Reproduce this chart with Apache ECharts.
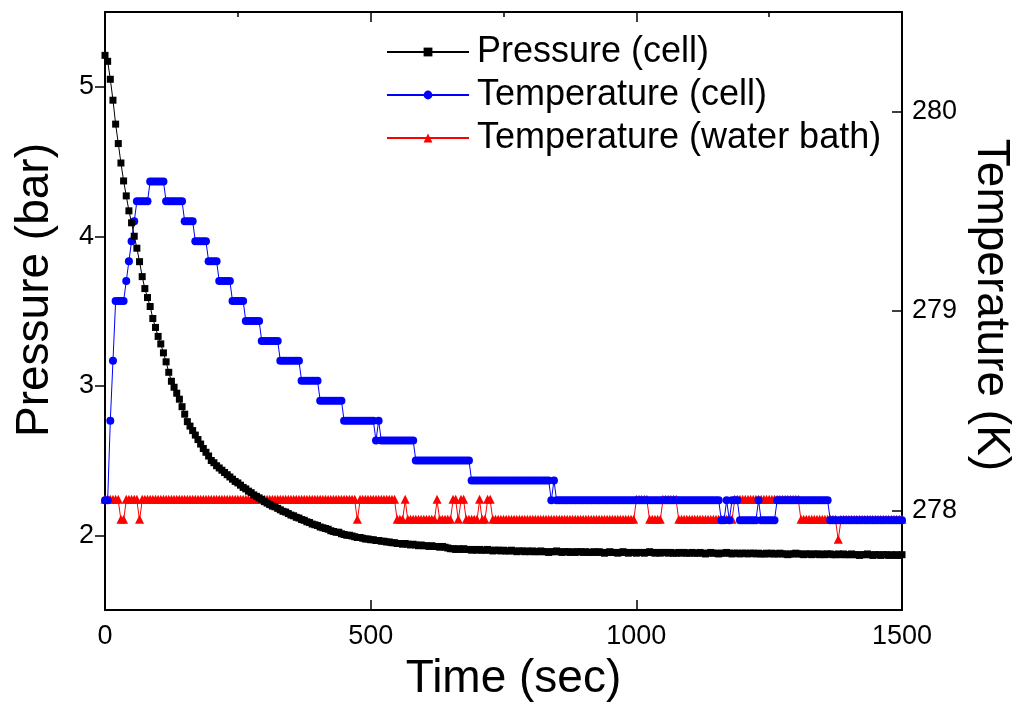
<!DOCTYPE html>
<html>
<head>
<meta charset="utf-8">
<title>Pressure and temperature vs time</title>
<script src="https://cdn.jsdelivr.net/npm/echarts@6/dist/echarts.min.js"></script>
<style>
  html, body { margin: 0; padding: 0; background: #ffffff; }
  #chart { width: 1022px; height: 708px; }
</style>
</head>
<body>
<div id="chart"></div>
<script>
// Sampling times (s), one reading every 5 s
const timeSec = [
  0, 5, 10, 15, 20, 25, 30, 35, 40, 45, 50, 55, 60, 65, 70, 75, 80, 85, 90, 95,
  100, 105, 110, 115, 120, 125, 130, 135, 140, 145, 150, 155, 160, 165, 170, 175, 180, 185, 190, 195,
  200, 205, 210, 215, 220, 225, 230, 235, 240, 245, 250, 255, 260, 265, 270, 275, 280, 285, 290, 295,
  300, 305, 310, 315, 320, 325, 330, 335, 340, 345, 350, 355, 360, 365, 370, 375, 380, 385, 390, 395,
  400, 405, 410, 415, 420, 425, 430, 435, 440, 445, 450, 455, 460, 465, 470, 475, 480, 485, 490, 495,
  500, 505, 510, 515, 520, 525, 530, 535, 540, 545, 550, 555, 560, 565, 570, 575, 580, 585, 590, 595,
  600, 605, 610, 615, 620, 625, 630, 635, 640, 645, 650, 655, 660, 665, 670, 675, 680, 685, 690, 695,
  700, 705, 710, 715, 720, 725, 730, 735, 740, 745, 750, 755, 760, 765, 770, 775, 780, 785, 790, 795,
  800, 805, 810, 815, 820, 825, 830, 835, 840, 845, 850, 855, 860, 865, 870, 875, 880, 885, 890, 895,
  900, 905, 910, 915, 920, 925, 930, 935, 940, 945, 950, 955, 960, 965, 970, 975, 980, 985, 990, 995,
  1000, 1005, 1010, 1015, 1020, 1025, 1030, 1035, 1040, 1045, 1050, 1055, 1060, 1065, 1070, 1075, 1080, 1085, 1090, 1095,
  1100, 1105, 1110, 1115, 1120, 1125, 1130, 1135, 1140, 1145, 1150, 1155, 1160, 1165, 1170, 1175, 1180, 1185, 1190, 1195,
  1200, 1205, 1210, 1215, 1220, 1225, 1230, 1235, 1240, 1245, 1250, 1255, 1260, 1265, 1270, 1275, 1280, 1285, 1290, 1295,
  1300, 1305, 1310, 1315, 1320, 1325, 1330, 1335, 1340, 1345, 1350, 1355, 1360, 1365, 1370, 1375, 1380, 1385, 1390, 1395,
  1400, 1405, 1410, 1415, 1420, 1425, 1430, 1435, 1440, 1445, 1450, 1455, 1460, 1465, 1470, 1475, 1480, 1485, 1490, 1495,
  1500
];

// Cell pressure (bar)
const pressureBar = [
  5.21, 5.17, 5.05, 4.91, 4.75, 4.62, 4.49, 4.37, 4.27, 4.17, 4.09, 4.00, 3.92, 3.83, 3.73, 3.65, 3.59, 3.53, 3.45, 3.39,
  3.33, 3.28, 3.22, 3.16, 3.09, 3.03, 2.99, 2.95, 2.91, 2.86, 2.81, 2.76, 2.73, 2.70, 2.67, 2.64, 2.61, 2.58, 2.555, 2.53,
  2.50, 2.485, 2.465, 2.45, 2.435, 2.42, 2.405, 2.39, 2.375, 2.36, 2.35, 2.335, 2.32, 2.31, 2.295, 2.285, 2.27, 2.26, 2.25, 2.24,
  2.225, 2.215, 2.205, 2.195, 2.19, 2.18, 2.17, 2.16, 2.155, 2.145, 2.135, 2.13, 2.12, 2.115, 2.105, 2.10, 2.09, 2.085, 2.075, 2.07,
  2.065, 2.055, 2.05, 2.045, 2.04, 2.03, 2.025, 2.02, 2.02, 2.01, 2.005, 2.00, 2.00, 1.995, 1.99, 1.985, 1.985, 1.98, 1.975, 1.975,
  1.97, 1.97, 1.965, 1.965, 1.96, 1.96, 1.955, 1.955, 1.95, 1.95, 1.945, 1.945, 1.94, 1.945, 1.94, 1.935, 1.94, 1.935, 1.93, 1.935,
  1.93, 1.93, 1.925, 1.93, 1.925, 1.925, 1.92, 1.925, 1.92, 1.915, 1.91, 1.91, 1.905, 1.91, 1.905, 1.91, 1.905, 1.905, 1.90, 1.905,
  1.90, 1.905, 1.90, 1.90, 1.905, 1.90, 1.895, 1.90, 1.90, 1.895, 1.90, 1.895, 1.895, 1.90, 1.895, 1.89, 1.895, 1.895, 1.89, 1.895,
  1.89, 1.895, 1.89, 1.89, 1.895, 1.89, 1.89, 1.885, 1.89, 1.89, 1.895, 1.89, 1.885, 1.89, 1.89, 1.885, 1.89, 1.885, 1.89, 1.89,
  1.885, 1.89, 1.885, 1.885, 1.89, 1.885, 1.89, 1.885, 1.88, 1.885, 1.89, 1.885, 1.885, 1.88, 1.885, 1.89, 1.885, 1.88, 1.885, 1.885,
  1.88, 1.885, 1.885, 1.88, 1.885, 1.89, 1.885, 1.88, 1.885, 1.88, 1.885, 1.885, 1.88, 1.885, 1.88, 1.88, 1.885, 1.88, 1.885, 1.88,
  1.88, 1.885, 1.88, 1.88, 1.885, 1.88, 1.875, 1.88, 1.885, 1.88, 1.88, 1.875, 1.88, 1.88, 1.885, 1.88, 1.875, 1.88, 1.88, 1.875,
  1.88, 1.88, 1.875, 1.88, 1.88, 1.875, 1.88, 1.875, 1.875, 1.88, 1.875, 1.88, 1.875, 1.875, 1.88, 1.875, 1.875, 1.87, 1.875, 1.875,
  1.88, 1.875, 1.875, 1.87, 1.875, 1.875, 1.87, 1.875, 1.875, 1.87, 1.875, 1.87, 1.875, 1.875, 1.87, 1.87, 1.875, 1.87, 1.875, 1.87,
  1.87, 1.875, 1.87, 1.87, 1.865, 1.87, 1.87, 1.875, 1.87, 1.865, 1.87, 1.87, 1.865, 1.87, 1.87, 1.865, 1.87, 1.865, 1.87, 1.865,
  1.87
];

// Cell temperature (K)
const tempCellK = [
  278.05, 278.05, 278.45, 278.75, 279.05, 279.05, 279.05, 279.05, 279.15, 279.25, 279.35, 279.45, 279.55, 279.55, 279.55, 279.55, 279.55, 279.65, 279.65, 279.65,
  279.65, 279.65, 279.65, 279.55, 279.55, 279.55, 279.55, 279.55, 279.55, 279.55, 279.45, 279.45, 279.45, 279.45, 279.35, 279.35, 279.35, 279.35, 279.35, 279.25,
  279.25, 279.25, 279.25, 279.15, 279.15, 279.15, 279.15, 279.15, 279.05, 279.05, 279.05, 279.05, 279.05, 278.95, 278.95, 278.95, 278.95, 278.95, 278.95, 278.85,
  278.85, 278.85, 278.85, 278.85, 278.85, 278.85, 278.75, 278.75, 278.75, 278.75, 278.75, 278.75, 278.75, 278.75, 278.65, 278.65, 278.65, 278.65, 278.65, 278.65,
  278.65, 278.55, 278.55, 278.55, 278.55, 278.55, 278.55, 278.55, 278.55, 278.55, 278.45, 278.45, 278.45, 278.45, 278.45, 278.45, 278.45, 278.45, 278.45, 278.45,
  278.45, 278.45, 278.35, 278.45, 278.35, 278.35, 278.35, 278.35, 278.35, 278.35, 278.35, 278.35, 278.35, 278.35, 278.35, 278.35, 278.35, 278.25, 278.25, 278.25,
  278.25, 278.25, 278.25, 278.25, 278.25, 278.25, 278.25, 278.25, 278.25, 278.25, 278.25, 278.25, 278.25, 278.25, 278.25, 278.25, 278.25, 278.25, 278.15, 278.15,
  278.15, 278.15, 278.15, 278.15, 278.15, 278.15, 278.15, 278.15, 278.15, 278.15, 278.15, 278.15, 278.15, 278.15, 278.15, 278.15, 278.15, 278.15, 278.15, 278.15,
  278.15, 278.15, 278.15, 278.15, 278.15, 278.15, 278.15, 278.15, 278.05, 278.15, 278.05, 278.05, 278.05, 278.05, 278.05, 278.05, 278.05, 278.05, 278.05, 278.05,
  278.05, 278.05, 278.05, 278.05, 278.05, 278.05, 278.05, 278.05, 278.05, 278.05, 278.05, 278.05, 278.05, 278.05, 278.05, 278.05, 278.05, 278.05, 278.05, 278.05,
  278.05, 278.05, 278.05, 278.05, 278.05, 278.05, 278.05, 278.05, 278.05, 278.05, 278.05, 278.05, 278.05, 278.05, 278.05, 278.05, 278.05, 278.05, 278.05, 278.05,
  278.05, 278.05, 278.05, 278.05, 278.05, 278.05, 278.05, 278.05, 278.05, 278.05, 278.05, 278.05, 277.95, 277.95, 278.05, 277.95, 278.05, 278.05, 278.05, 277.95,
  277.95, 277.95, 277.95, 277.95, 277.95, 277.95, 278.05, 277.95, 277.95, 277.95, 277.95, 277.95, 277.95, 278.05, 278.05, 278.05, 278.05, 278.05, 278.05, 278.05,
  278.05, 278.05, 278.05, 278.05, 278.05, 278.05, 278.05, 278.05, 278.05, 278.05, 278.05, 278.05, 278.05, 277.95, 277.95, 277.95, 277.95, 277.95, 277.95, 277.95,
  277.95, 277.95, 277.95, 277.95, 277.95, 277.95, 277.95, 277.95, 277.95, 277.95, 277.95, 277.95, 277.95, 277.95, 277.95, 277.95, 277.95, 277.95, 277.95, 277.95,
  277.95
];

// Water bath temperature (K)
const tempBathK = [
  278.05, 278.05, 278.05, 278.05, 278.05, 278.05, 277.95, 277.95, 278.05, 278.05, 278.05, 278.05, 278.05, 277.95, 278.05, 278.05, 278.05, 278.05, 278.05, 278.05,
  278.05, 278.05, 278.05, 278.05, 278.05, 278.05, 278.05, 278.05, 278.05, 278.05, 278.05, 278.05, 278.05, 278.05, 278.05, 278.05, 278.05, 278.05, 278.05, 278.05,
  278.05, 278.05, 278.05, 278.05, 278.05, 278.05, 278.05, 278.05, 278.05, 278.05, 278.05, 278.05, 278.05, 278.05, 278.05, 278.05, 278.05, 278.05, 278.05, 278.05,
  278.05, 278.05, 278.05, 278.05, 278.05, 278.05, 278.05, 278.05, 278.05, 278.05, 278.05, 278.05, 278.05, 278.05, 278.05, 278.05, 278.05, 278.05, 278.05, 278.05,
  278.05, 278.05, 278.05, 278.05, 278.05, 278.05, 278.05, 278.05, 278.05, 278.05, 278.05, 278.05, 278.05, 278.05, 278.05, 277.95, 278.05, 278.05, 278.05, 278.05,
  278.05, 278.05, 278.05, 278.05, 278.05, 278.05, 278.05, 278.05, 278.05, 278.05, 277.95, 277.95, 277.95, 278.05, 277.95, 277.95, 277.95, 277.95, 277.95, 277.95,
  277.95, 277.95, 277.95, 277.95, 277.95, 278.05, 277.95, 277.95, 277.95, 277.95, 277.95, 278.05, 278.05, 277.95, 278.05, 278.05, 277.95, 277.95, 277.95, 277.95,
  277.95, 278.05, 277.95, 277.95, 278.05, 278.05, 277.95, 277.95, 277.95, 277.95, 277.95, 277.95, 277.95, 277.95, 277.95, 277.95, 277.95, 277.95, 277.95, 277.95,
  277.95, 277.95, 277.95, 277.95, 277.95, 277.95, 277.95, 277.95, 277.95, 277.95, 277.95, 277.95, 277.95, 277.95, 277.95, 277.95, 277.95, 277.95, 277.95, 277.95,
  277.95, 277.95, 277.95, 277.95, 277.95, 277.95, 277.95, 277.95, 277.95, 277.95, 277.95, 277.95, 277.95, 277.95, 277.95, 277.95, 277.95, 277.95, 277.95, 277.95,
  278.05, 278.05, 278.05, 278.05, 278.05, 277.95, 277.95, 277.95, 277.95, 277.95, 278.05, 278.05, 278.05, 278.05, 278.05, 278.05, 277.95, 277.95, 277.95, 277.95,
  277.95, 277.95, 277.95, 277.95, 277.95, 277.95, 277.95, 277.95, 277.95, 277.95, 277.95, 277.95, 277.95, 277.95, 277.95, 277.95, 277.95, 278.05, 278.05, 278.05,
  278.05, 278.05, 278.05, 278.05, 278.05, 278.05, 278.05, 278.05, 278.05, 278.05, 278.05, 278.05, 278.05, 278.05, 278.05, 278.05, 278.05, 278.05, 278.05, 278.05,
  278.05, 278.05, 277.95, 277.95, 277.95, 277.95, 277.95, 277.95, 277.95, 277.95, 277.95, 277.95, 277.95, 277.95, 277.95, 277.95, 277.85, 277.95, 277.95, 277.95,
  277.95, 277.95, 277.95, 277.95, 277.95, 277.95, 277.95, 277.95, 277.95, 277.95, 277.95, 277.95, 277.95, 277.95, 277.95, 277.95, 277.95, 277.95, 277.95, 277.95,
  277.95
];

// Axis tick values
const timeTicks = [0, 500, 1000, 1500];
const pressureTicks = [2, 3, 4, 5];
const tempTicks = [278, 279, 280];

const FONT = '"Liberation Sans", Arial, Helvetica, sans-serif';

function pairs(values) {
  return values.map((v, i) => [timeSec[i], v]);
}

const plainNumber = (v) => String(v);

const chart = echarts.init(document.getElementById('chart'), null, { renderer: 'canvas' });

const axisLineStyle = { color: '#000000', width: 2 };
const tickLineStyle = { color: '#000000', width: 1.5 };

chart.setOption({
  backgroundColor: '#ffffff',
  animation: false,
  textStyle: { fontFamily: FONT },
  grid: { left: 105, right: 117, top: 12, bottom: 98, containLabel: false },
  legend: {
    orient: 'vertical',
    left: 381,
    top: 27,
    padding: 5,
    itemWidth: 82,
    itemHeight: 11,
    itemGap: 3,
    selectedMode: false,
    textStyle: { fontFamily: FONT, fontSize: 36, color: '#000000', lineHeight: 40, padding: [0, 0, 0, 3] },
    data: ['Pressure (cell)', 'Temperature (cell)', 'Temperature (water bath)']
  },
  xAxis: [
    {
      type: 'value',
      position: 'bottom',
      min: timeTicks[0],
      max: timeTicks[timeTicks.length - 1],
      interval: 500,
      axisLine: { show: true, onZero: false, lineStyle: axisLineStyle },
      axisTick: { show: true, inside: true, length: 10, lineStyle: tickLineStyle },
      axisLabel: { fontFamily: FONT, fontSize: 27, color: '#000000', margin: 13, formatter: plainNumber },
      splitLine: { show: false },
      name: 'Time (sec)',
      nameLocation: 'middle',
      nameGap: 46,
      nameTextStyle: { fontFamily: FONT, fontSize: 46, color: '#000000', padding: [0, 0, 0, 20] }
    },
    {
      type: 'value',
      position: 'top',
      min: timeTicks[0],
      max: timeTicks[timeTicks.length - 1],
      interval: 500,
      axisLine: { show: true, onZero: false, lineStyle: axisLineStyle },
      axisTick: { show: true, inside: true, length: 10, lineStyle: tickLineStyle },
      minorTick: { show: true, splitNumber: 2, length: 5, lineStyle: tickLineStyle },
      axisLabel: { show: false },
      splitLine: { show: false },
      minorSplitLine: { show: false }
    }
  ],
  yAxis: [
    {
      type: 'value',
      position: 'left',
      min: 1.5,
      max: 5.5,
      interval: 0.5,
      axisLine: { show: true, onZero: false, lineStyle: axisLineStyle },
      axisTick: { show: true, inside: false, length: 10, customValues: pressureTicks, lineStyle: tickLineStyle },
      axisLabel: { fontFamily: FONT, fontSize: 27, color: '#000000', margin: 11, customValues: pressureTicks, formatter: plainNumber },
      splitLine: { show: false },
      name: 'Pressure (bar)',
      nameLocation: 'middle',
      nameRotate: 90,
      nameGap: 47,
      nameTextStyle: { fontFamily: FONT, fontSize: 46, color: '#000000', padding: [0, 0, 0, 42] }
    },
    {
      type: 'value',
      position: 'right',
      min: 277.5,
      max: 280.5,
      interval: 0.5,
      axisLine: { show: true, onZero: false, lineStyle: axisLineStyle },
      axisTick: { show: true, inside: true, length: 10, customValues: tempTicks, lineStyle: tickLineStyle },
      axisLabel: { fontFamily: FONT, fontSize: 27, color: '#000000', margin: 10, customValues: tempTicks, formatter: plainNumber },
      splitLine: { show: false },
      name: 'Temperature (K)',
      nameLocation: 'middle',
      nameRotate: -90,
      nameGap: 66,
      nameTextStyle: { fontFamily: FONT, fontSize: 46, color: '#000000', padding: [0, 12, 0, 0] }
    }
  ],
  series: [
    {
      name: 'Pressure (cell)',
      type: 'line',
      xAxisIndex: 0,
      yAxisIndex: 0,
      z: 4,
      data: pairs(pressureBar),
      symbol: 'rect',
      symbolSize: 7,
      showSymbol: true,
      showAllSymbol: true,
      itemStyle: { color: '#000000' },
      lineStyle: { color: '#000000', width: 1 }
    },
    {
      name: 'Temperature (cell)',
      type: 'line',
      xAxisIndex: 0,
      yAxisIndex: 1,
      z: 3,
      data: pairs(tempCellK),
      symbol: 'circle',
      symbolSize: 8,
      showSymbol: true,
      showAllSymbol: true,
      itemStyle: { color: '#0000ff' },
      lineStyle: { color: '#0000ff', width: 1 }
    },
    {
      name: 'Temperature (water bath)',
      type: 'line',
      xAxisIndex: 0,
      yAxisIndex: 1,
      z: 2,
      data: pairs(tempBathK),
      symbol: 'triangle',
      symbolSize: [9, 9],
      symbolOffset: [0, -1],
      showSymbol: true,
      showAllSymbol: true,
      itemStyle: { color: '#ff0000' },
      lineStyle: { color: '#ff0000', width: 1 }
    }
  ]
});
</script>
</body>
</html>
